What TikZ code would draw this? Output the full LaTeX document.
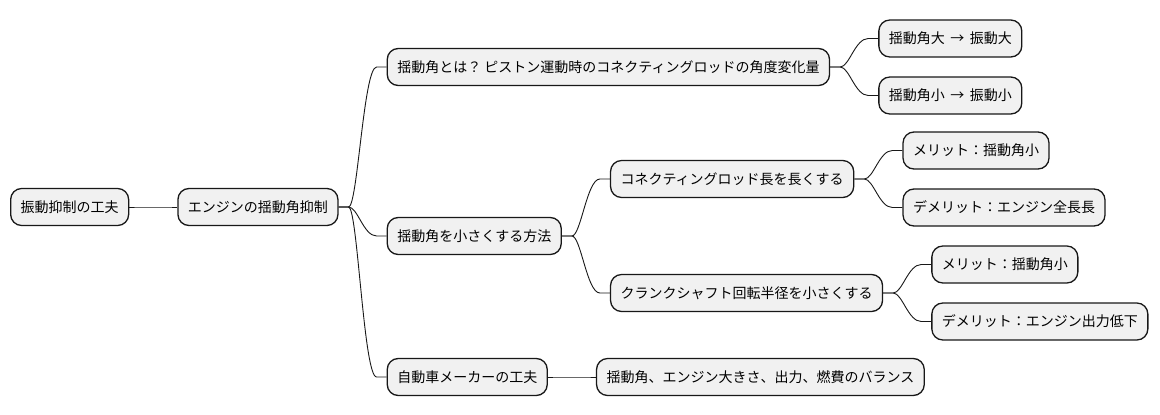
\documentclass[tikz,border=0pt]{standalone}
\usepackage{fontspec}
\setmainfont{Noto Sans CJK JP}
\usepackage{tikz}
\usetikzlibrary{positioning}
\definecolor{boxgray}{HTML}{F1F1F1}
\definecolor{linegray}{HTML}{181818}

\tikzset{
  mmnode/.style={draw=linegray, line width=1.3pt, fill=boxgray, rounded corners=11pt,
    minimum height=37pt, inner xsep=10pt, font=\fontsize{14}{16}\selectfont},
  branch/.style={linegray, line width=0.9pt,
    to path={-- ++(10pt,0) .. controls +(9pt,0) and +(-13pt,0) .. ([xshift=-10pt]\tikztotarget) -- (\tikztotarget)}}
}

\begin{document}
\begin{tikzpicture}[x=1pt,y=-1pt]
\useasboundingbox (0,0) rectangle (1160,415);
%levels, left to right
\node[mmnode,anchor=west] at (10,207) (Root) {振動抑制の工夫};
\node[mmnode,right=48pt of Root] (Node1) {エンジンの揺動角抑制};
\node[mmnode,right=48pt of Node1,yshift=140pt] (Node2) {揺動角とは？ ピストン運動時のコネクティングロッドの角度変化量};
\node[mmnode,right=48pt of Node2,yshift=28.5pt] (Node3) {揺動角大 \,→\, 振動大};
\node[mmnode,right=48pt of Node2,yshift=-28.5pt] (Node4) {揺動角小 \,→\, 振動小};
\node[mmnode,right=48pt of Node1,yshift=-29pt] (Node5) {揺動角を小さくする方法};
\node[mmnode,right=48pt of Node5,yshift=57pt] (Node6) {コネクティングロッド長を長くする};
\node[mmnode,right=48pt of Node6,yshift=28.5pt] (Node7) {メリット：揺動角小};
\node[mmnode,right=48pt of Node6,yshift=-28.5pt] (Node8) {デメリット：エンジン全長長};
\node[mmnode,right=48pt of Node5,yshift=-57pt] (Node9) {クランクシャフト回転半径を小さくする};
\node[mmnode,right=48pt of Node9,yshift=28.5pt] (Node10) {メリット：揺動角小};
\node[mmnode,right=48pt of Node9,yshift=-28.5pt] (Node11) {デメリット：エンジン出力低下};
\node[mmnode,right=48pt of Node1,yshift=-170pt] (Node12) {自動車メーカーの工夫};
\node[mmnode,right=48pt of Node12] (Node13) {揺動角、エンジン大きさ、出力、燃費のバランス};
%branches
\draw[branch] (Root.east) to (Node1.west);
\draw[branch] (Node1.east) to (Node2.west);
\draw[branch] (Node1.east) to (Node5.west);
\draw[branch] (Node1.east) to (Node12.west);
\draw[branch] (Node2.east) to (Node3.west);
\draw[branch] (Node2.east) to (Node4.west);
\draw[branch] (Node5.east) to (Node6.west);
\draw[branch] (Node5.east) to (Node9.west);
\draw[branch] (Node6.east) to (Node7.west);
\draw[branch] (Node6.east) to (Node8.west);
\draw[branch] (Node9.east) to (Node10.west);
\draw[branch] (Node9.east) to (Node11.west);
\draw[branch] (Node12.east) to (Node13.west);
\end{tikzpicture}
\end{document}
